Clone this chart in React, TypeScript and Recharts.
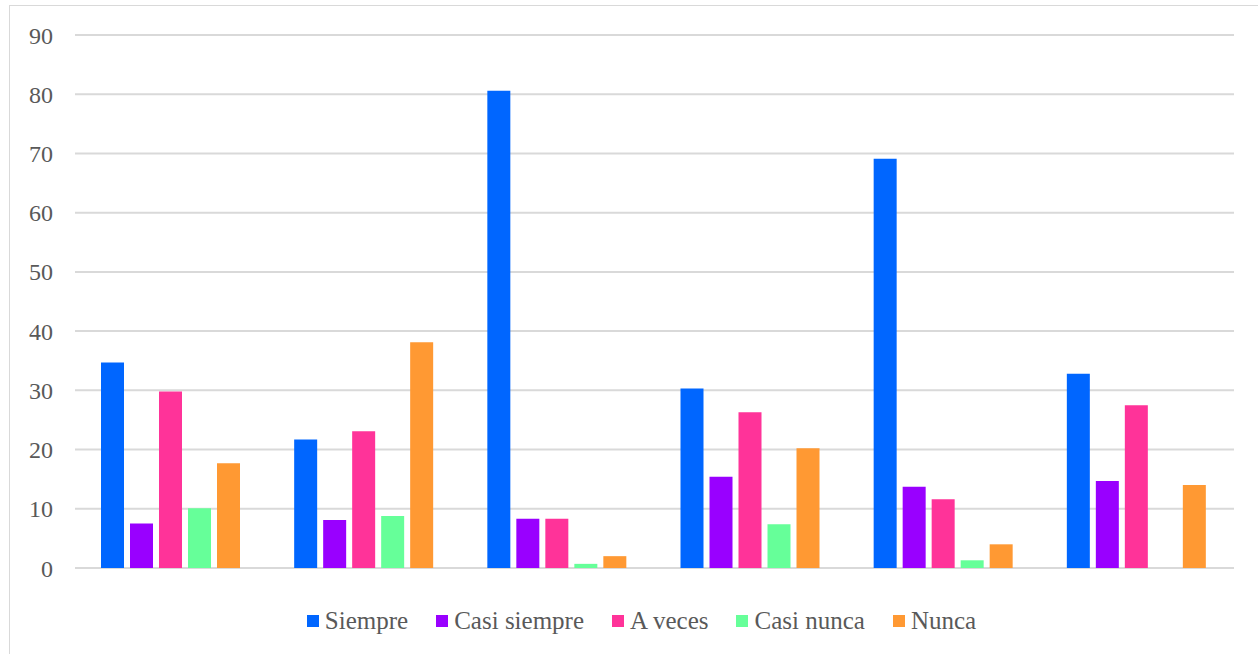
import { BarChart, Bar, XAxis, YAxis, CartesianGrid, Legend } from 'recharts';

const categories = ['1', '2', '3', '4', '5', '6'];
const siempre = [34.7, 21.7, 80.6, 30.3, 69.1, 32.8];
const casiSiempre = [7.5, 8.1, 8.3, 15.4, 13.7, 14.7];
const aVeces = [29.8, 23.1, 8.3, 26.3, 11.6, 27.5];
const casiNunca = [10.1, 8.8, 0.7, 7.4, 1.3, 0];
const nunca = [17.7, 38.1, 2.0, 20.2, 4.0, 14.0];
const yTicks = [0, 10, 20, 30, 40, 50, 60, 70, 80, 90];

const series = [
  { key: 'siempre', name: 'Siempre', color: '#0066ff' },
  { key: 'casiSiempre', name: 'Casi siempre', color: '#9900ff' },
  { key: 'aVeces', name: 'A veces', color: '#ff3399' },
  { key: 'casiNunca', name: 'Casi nunca', color: '#66ff99' },
  { key: 'nunca', name: 'Nunca', color: '#ff9933' },
];

const data = categories.map((c, i) => ({
  cat: c,
  siempre: siempre[i],
  casiSiempre: casiSiempre[i],
  aVeces: aVeces[i],
  casiNunca: casiNunca[i],
  nunca: nunca[i],
}));

const font = "'Liberation Serif', 'Times New Roman', serif";

function LegendContent() {
  return (
    <div style={{ display: 'flex', justifyContent: 'center', paddingLeft: 14 }}>
      {series.map((s, i) => (
        <div key={s.key} style={{ display: 'flex', alignItems: 'center', marginRight: i < series.length - 1 ? 28 : 0 }}>
          <span style={{ width: 12, height: 12, background: s.color, marginRight: 6, display: 'inline-block' }} />
          <span style={{ fontFamily: font, fontSize: 25, color: '#595959', lineHeight: '28px' }}>{s.name}</span>
        </div>
      ))}
    </div>
  );
}

export default function App() {
  return (
    <div style={{ position: 'absolute', left: 9, top: 5, width: 1250, height: 660, border: '1px solid #d9d9d9', background: '#fff' }}>
      <BarChart
        width={1248}
        height={660}
        data={data}
        margin={{ top: 29, right: 24, left: 25, bottom: 70 }}
        barCategoryGap={26}
        barGap={6}
      >
        <CartesianGrid vertical={false} stroke="#d9d9d9" strokeWidth={2} />
        <XAxis dataKey="cat" tick={false} tickLine={false} axisLine={{ stroke: '#d9d9d9', strokeWidth: 2 }} height={0} />
        <YAxis
          domain={[0, 90]}
          ticks={yTicks}
          width={40}
          axisLine={false}
          tickLine={false}
          tickSize={0}
          tickMargin={22}
          tick={{ fill: '#595959', fontSize: 24, fontFamily: font }}
        />
        <Legend verticalAlign="bottom" content={<LegendContent />} wrapperStyle={{ bottom: 31 }} />
        {series.map((s) => (
          <Bar key={s.key} dataKey={s.key} name={s.name} fill={s.color} isAnimationActive={false} />
        ))}
      </BarChart>
    </div>
  );
}
